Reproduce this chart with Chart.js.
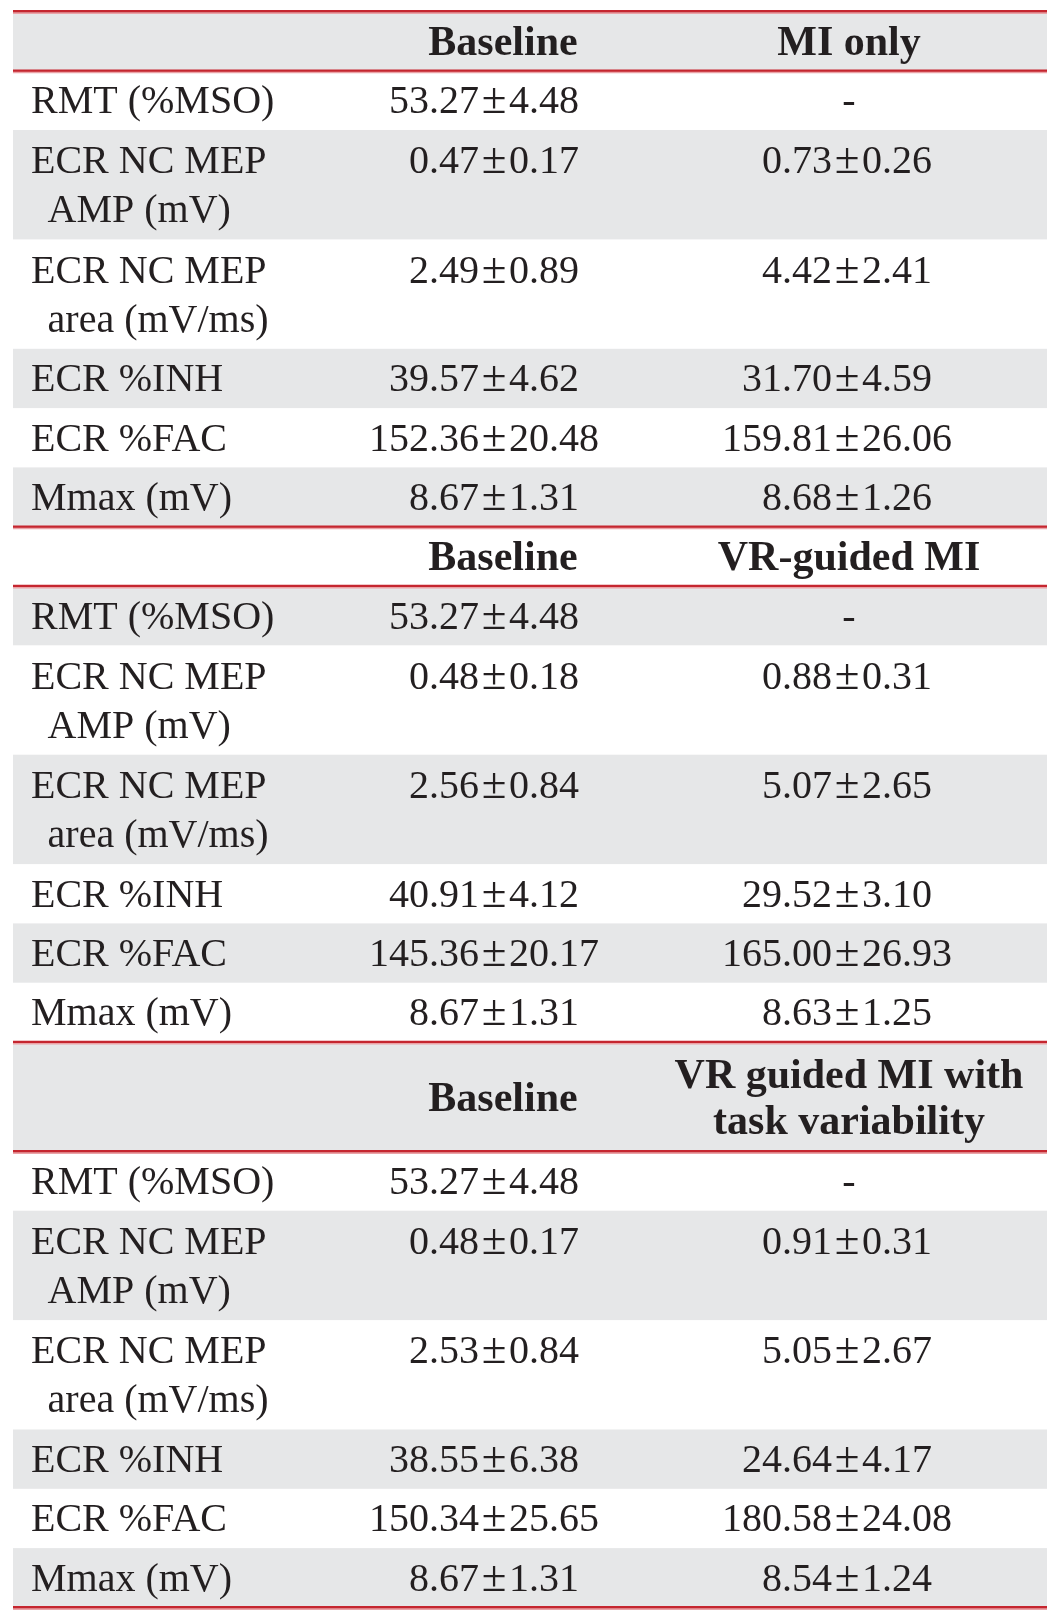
<!DOCTYPE html>
<html>
<head>
<meta charset="utf-8">
<title>MEP table</title>
<script src="https://cdn.jsdelivr.net/npm/chart.js@4.4.0/dist/chart.umd.min.js"></script>
<style>
  html, body { margin: 0; padding: 0; background: #fff; }
  canvas { display: block; }
</style>
</head>
<body>
<canvas id="myChart" width="1056" height="1621"></canvas>
<script>
"use strict";

// table content
const conditions = ["MI only", "VR-guided MI", "VR guided MI with\ntask variability"];
const measures = ["RMT (%MSO)", "ECR NC MEP\nAMP (mV)", "ECR NC MEP\narea (mV/ms)", "ECR %INH", "ECR %FAC", "Mmax (mV)"];

const baselineMean = [
  [53.27, 0.47, 2.49, 39.57, 152.36, 8.67],
  [53.27, 0.48, 2.56, 40.91, 145.36, 8.67],
  [53.27, 0.48, 2.53, 38.55, 150.34, 8.67],
];
const baselineSD = [
  [4.48, 0.17, 0.89, 4.62, 20.48, 1.31],
  [4.48, 0.18, 0.84, 4.12, 20.17, 1.31],
  [4.48, 0.17, 0.84, 6.38, 25.65, 1.31],
];
const conditionMean = [
  [null, 0.73, 4.42, 31.70, 159.81, 8.68],
  [null, 0.88, 5.07, 29.52, 165.00, 8.63],
  [null, 0.91, 5.05, 24.64, 180.58, 8.54],
];
const conditionSD = [
  [null, 0.26, 2.41, 4.59, 26.06, 1.26],
  [null, 0.31, 2.65, 3.10, 26.93, 1.25],
  [null, 0.31, 2.67, 4.17, 24.08, 1.24],
];

// layout (scale units = page px)
let tableLeft = 13;
let tableRight = 1047;
let tableTop = 11.4;
let singleRow = 59.3;
let doubleRow = 109.4;
let labelX = 31;
let labelIndent = 16.6;
let baselinePm = 494;
let baselineCenter = 503;
let conditionPm = 847;
let conditionCenter = 849;
let pmHalf = 15;

const grey = "#e6e7e8";
const red = "#c5262f";
const pink = "#eaa3a7";
const ink = "#231f20";
const bodyFont = "40px 'Liberation Serif'";
const pmFont = "45px 'Liberation Serif'";
const headFont = "bold 42px 'Liberation Serif'";

// build row list
const rows = [];
let y = tableTop;
for (let g = 0; g < conditions.length; g++) {
  let headLines = conditions[g].split("\n");
  let h = headLines.length > 1 ? doubleRow : singleRow;
  rows.push({ head: true, top: y, height: h, lines: headLines });
  y += h;
  for (let m = 0; m < measures.length; m++) {
    let lines = measures[m].split("\n");
    let rh = lines.length > 1 ? doubleRow : singleRow;
    rows.push({
      head: false,
      top: y,
      height: rh,
      lines: lines,
      base: [baselineMean[g][m], baselineSD[g][m]],
      cond: [conditionMean[g][m], conditionSD[g][m]],
    });
    y += rh;
  }
}
let tableBottom = y;

// red rules: above and below each header, and at the bottom
const ruleYs = [];
rows.forEach(function (r) {
  if (r.head) {
    ruleYs.push(r.top, r.top + r.height);
  }
});
ruleYs.push(tableBottom);

function rulePoints(offset) {
  const pts = [];
  ruleYs.forEach(function (ry) {
    pts.push({ x: tableLeft, y: ry + offset });
    pts.push({ x: tableRight, y: ry + offset });
    pts.push({ x: tableRight, y: null });
  });
  return pts;
}

function fmt(v) {
  return v.toFixed(2);
}

// mean right of the ± slot, sd left of it
function drawPm(ctx, xs, center, mean, sd, yPix) {
  ctx.textAlign = "right";
  ctx.fillText(fmt(mean), xs.getPixelForValue(center - pmHalf), yPix);
  ctx.textAlign = "left";
  ctx.fillText(fmt(sd), xs.getPixelForValue(center + pmHalf), yPix);
  ctx.font = pmFont;
  ctx.textAlign = "center";
  ctx.fillText("±", xs.getPixelForValue(center), yPix);
  ctx.font = bodyFont;
}

const tablePlugin = {
  id: "tableCells",
  beforeDatasetsDraw(chart) {
    const ctx = chart.ctx;
    const xs = chart.scales.x;
    const ys = chart.scales.y;
    ctx.save();
    ctx.fillStyle = grey;
    rows.forEach(function (r, i) {
      if (i % 2 === 0) {
        let t = ys.getPixelForValue(r.top);
        let b = ys.getPixelForValue(r.top + r.height);
        let l = xs.getPixelForValue(tableLeft);
        let rr = xs.getPixelForValue(tableRight);
        ctx.fillRect(l, t, rr - l, b - t);
      }
    });
    ctx.restore();
  },
  afterDatasetsDraw(chart) {
    const ctx = chart.ctx;
    const xs = chart.scales.x;
    const ys = chart.scales.y;
    ctx.save();
    ctx.fillStyle = ink;
    ctx.textBaseline = "alphabetic";
    rows.forEach(function (r) {
      let mid = r.top + r.height / 2;
      if (r.head) {
        ctx.font = headFont;
        ctx.textAlign = "center";
        ctx.fillText("Baseline", xs.getPixelForValue(baselineCenter), ys.getPixelForValue(mid + 14));
        let n = r.lines.length;
        r.lines.forEach(function (ln, k) {
          let off = (k - (n - 1) / 2) * 46 + 14;
          ctx.fillText(ln, xs.getPixelForValue(conditionCenter), ys.getPixelForValue(mid + off));
        });
        return;
      }
      ctx.font = bodyFont;
      let n = r.lines.length;
      let firstLine = mid - ((n - 1) / 2) * 49 + 13;
      r.lines.forEach(function (ln, k) {
        ctx.textAlign = "left";
        let lx = labelX + (k > 0 ? labelIndent : 0);
        ctx.fillText(ln, xs.getPixelForValue(lx), ys.getPixelForValue(firstLine + k * 49));
      });
      let vy = ys.getPixelForValue(firstLine);
      drawPm(ctx, xs, baselinePm, r.base[0], r.base[1], vy);
      if (r.cond[0] === null) {
        ctx.textAlign = "center";
        ctx.fillText("-", xs.getPixelForValue(conditionCenter), vy);
      } else {
        drawPm(ctx, xs, conditionPm, r.cond[0], r.cond[1], vy);
      }
    });
    ctx.restore();
  },
};

const config = {
  type: "line",
  data: {
    datasets: [
      {
        label: "shadow",
        data: rulePoints(1.8),
        borderColor: pink,
        borderWidth: 1.5,
        pointRadius: 0,
        spanGaps: false,
      },
      {
        label: "rules",
        data: rulePoints(0),
        borderColor: red,
        borderWidth: 2.6,
        pointRadius: 0,
        spanGaps: false,
      },
    ],
  },
  options: {
    responsive: false,
    animation: false,
    devicePixelRatio: 1,
    layout: { padding: 0 },
    plugins: {
      legend: { display: false },
      tooltip: { enabled: false },
    },
    scales: {
      x: { type: "linear", min: 0, max: 1056, display: false },
      y: { type: "linear", min: 0, max: 1621, reverse: true, display: false },
    },
  },
  plugins: [tablePlugin],
};

const canvasChart = document.getElementById("myChart");
new Chart(canvasChart, config);
</script>
</body>
</html>
